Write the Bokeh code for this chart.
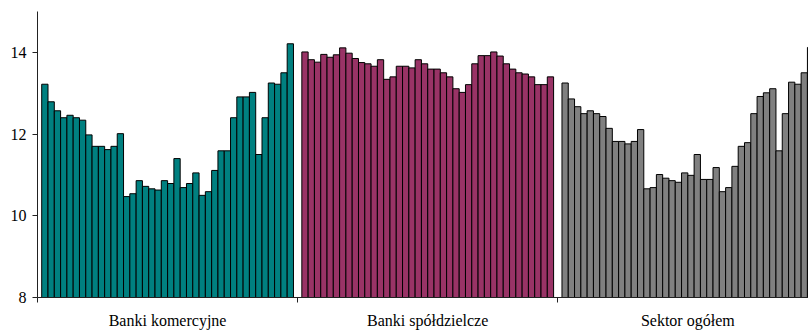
from bokeh.plotting import figure
from bokeh.models import FixedTicker, ColumnDataSource, Range1d
from bokeh.embed import file_html
from bokeh.resources import INLINE

groups = ["Banki komercyjne", "Banki spółdzielcze", "Sektor ogółem"]
colors = ["#008080", "#993366", "#808080"]

komercyjne = [13.22, 12.79, 12.57, 12.40, 12.46, 12.40, 12.34, 11.98, 11.70, 11.70,
              11.62, 11.70, 12.01, 10.47, 10.54, 10.86, 10.72, 10.66, 10.63, 10.86,
              10.79, 11.40, 10.69, 10.79, 11.05, 10.50, 10.59, 11.11, 11.59, 11.59,
              12.40, 12.91, 12.91, 13.02, 11.50, 12.40, 13.25, 13.22, 13.50, 14.21]
spoldzielcze = [14.01, 13.82, 13.76, 13.95, 13.88, 13.94, 14.11, 13.98, 13.85, 13.75,
                13.72, 13.66, 13.82, 13.34, 13.40, 13.66, 13.66, 13.62, 13.82, 13.72,
                13.59, 13.59, 13.50, 13.40, 13.11, 13.02, 13.21, 13.72, 13.92, 13.92,
                14.01, 13.91, 13.72, 13.59, 13.50, 13.47, 13.40, 13.21, 13.21, 13.40]
ogolem = [13.25, 12.86, 12.67, 12.50, 12.57, 12.50, 12.43, 12.14, 11.82, 11.82,
          11.76, 11.82, 12.11, 10.66, 10.69, 11.01, 10.92, 10.86, 10.82, 11.05,
          10.99, 11.50, 10.89, 10.89, 11.18, 10.59, 10.69, 11.21, 11.70, 11.79,
          12.50, 12.92, 13.01, 13.11, 11.59, 12.50, 13.27, 13.22, 13.50, 14.12]
series = [komercyjne, spoldzielcze, ogolem]
y_ticks = [8, 10, 12, 14]

G = 41.33     # category width in bar units
PAD = 0.67    # gap before the first bar of each category
FONT = "Liberation Serif"

p = figure(width=808, height=331, output_backend="svg", toolbar_location=None,
           x_range=Range1d(0, 122.5), y_range=Range1d(8, 15),
           min_border_left=37, min_border_right=0, min_border_top=11, min_border_bottom=34)
p.outline_line_color = None
p.xgrid.visible = False
p.ygrid.visible = False
p.background_fill_color = "white"

for g, vals in enumerate(series):
    xs = [g * G + PAD + i + 0.5 for i in range(len(vals))]
    src = ColumnDataSource(dict(x=xs, top=vals))
    p.vbar(x="x", top="top", bottom=8, width=1.0, source=src,
           fill_color=colors[g], line_color="black", line_width=1)

# y axis
p.yaxis.ticker = FixedTicker(ticks=y_ticks, minor_ticks=[])
p.yaxis.major_tick_out = 5
p.yaxis.major_tick_in = 0
p.yaxis.minor_tick_out = 0
p.yaxis.major_label_standoff = 6
p.yaxis.major_label_text_font = FONT
p.yaxis.major_label_text_font_size = "16px"
p.yaxis.major_label_text_color = "black"
p.yaxis.axis_line_color = "#222222"
p.yaxis.major_tick_line_color = "#222222"

# x axis: labels at category centres, small ticks at category boundaries
centers = [g * G + G / 2 for g in range(len(groups))]
bounds = [g * G for g in range(len(groups) + 1)]
p.xaxis.ticker = FixedTicker(ticks=centers, minor_ticks=bounds)
p.xaxis.major_label_overrides = {c: name for c, name in zip(centers, groups)}
p.xaxis.major_tick_line_color = None
p.xaxis.major_tick_out = 0
p.xaxis.major_tick_in = 0
p.xaxis.minor_tick_out = 5
p.xaxis.minor_tick_in = 0
p.xaxis.minor_tick_line_color = "#222222"
p.xaxis.axis_line_color = "#222222"
p.xaxis.major_label_standoff = 9
p.xaxis.major_label_text_font = FONT
p.xaxis.major_label_text_font_size = "16px"
p.xaxis.major_label_text_color = "black"

open("out.html", "w").write(file_html(p, INLINE))
